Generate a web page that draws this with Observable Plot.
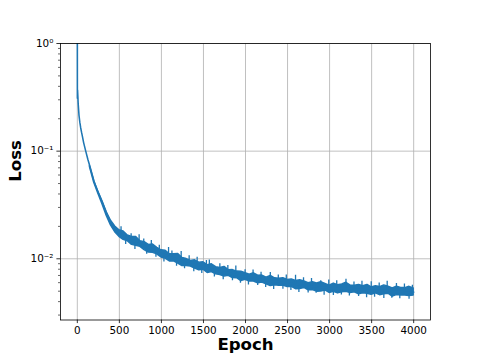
<!DOCTYPE html>
<html><head><meta charset="utf-8">
<script src="https://cdn.jsdelivr.net/npm/d3@7"></script>
<script src="https://cdn.jsdelivr.net/npm/@observablehq/plot@0.6"></script>
<style>html,body{margin:0;padding:0;background:#fff}svg{display:block}</style>
</head><body><div id="chart"></div>
<script>
// Trend of the training loss
const trendEpochs = [0,1,3,6,10,15,20,30,40,50,60,75,100,125,
  150,200,250,300,350,400,450,500,550,600,650,700,750,800,850,900,950,1000,
  1050,1100,1150,1200,1250,1300,1350,1400,1450,1500,1550,1600,1650,1700,1750,1800,1850,1900,1950,2000,
  2050,2100,2150,2200,2250,2300,2350,2400,2450,2500,2550,2600,2650,2700,2750,2800,2850,2900,2950,3000,
  3050,3100,3150,3200,3250,3300,3350,3400,3450,3500,3550,3600,3650,3700,3750,3800,3850,3900,3950,4000];
const trendLoss = [3.0,0.31,0.37,0.33,0.28,0.245,0.215,0.185,0.165,0.15,0.138,0.12,0.1,0.084,
  0.072,0.052,0.041,0.033,0.026,0.0215,0.0188,0.0172,0.0163,0.0155,0.0148,0.0142,0.0136,0.0131,0.0127,0.0122,0.0117,0.0112,
  0.0108,0.0104,0.0101,0.0098,0.0095,0.0092,0.0090,0.0088,0.0086,0.0085,0.0082,0.0080,0.0078,0.0076,0.0075,0.0074,0.0072,0.0071,0.0069,0.0068,
  0.0067,0.0066,0.0065,0.0064,0.0063,0.0062,0.0061,0.0061,0.0060,0.0060,0.0059,0.0058,0.0057,0.0057,0.0056,0.0055,0.0055,0.0054,0.0054,0.0053,
  0.0053,0.0053,0.0053,0.0053,0.0053,0.0052,0.0052,0.0052,0.0051,0.0051,0.0051,0.0051,0.0051,0.0051,0.0050,0.0050,0.0050,0.0049,0.0049,0.0049];

// Envelope of the noisy band (upper and lower edges)
const bandEpochs = [150,200,250,300,350,400,450,500,550,600,650,700,750,800,850,900,950,1000,
  1050,1100,1150,1200,1250,1300,1350,1400,1450,1500,1550,1600,1650,1700,1750,1800,1850,1900,1950,2000,
  2050,2100,2150,2200,2250,2300,2350,2400,2450,2500,2550,2600,2650,2700,2750,2800,2850,2900,2950,3000,
  3050,3100,3150,3200,3250,3300,3350,3400,3450,3500,3550,3600,3650,3700,3750,3800,3850,3900,3950,4000];
const bandHigh = [0.0727,0.0528,0.0418,0.0340,0.0270,0.02258,0.01993,0.01840,0.01793,0.01643,0.01598,0.01590,0.01455,0.01428,0.01346,0.01354,0.01264,0.01198,
  0.01188,0.01102,0.01101,0.01107,0.01017,0.00994,0.00954,0.00968,0.00920,0.00927,0.00869,0.00888,0.00835,0.00821,0.00840,0.00784,0.00785,0.00760,0.00759,0.00734,
  0.00710,0.00733,0.00696,0.00698,0.00668,0.00694,0.00659,0.00653,0.00660,0.00636,0.00643,0.00621,0.00633,0.00616,0.00594,0.00605,0.00589,0.00605,0.00583,0.00562,
  0.00588,0.00567,0.00578,0.00599,0.00562,0.00562,0.00572,0.00556,0.00571,0.00541,0.00556,0.00546,0.00566,0.00551,0.00530,0.00550,0.00535,0.00534,0.00549,0.00529];
const bandLow = [0.0713,0.0512,0.0402,0.0320,0.0250,0.02043,0.01767,0.01600,0.01500,0.01457,0.01347,0.01321,0.01292,0.01205,0.01143,0.01135,0.01100,0.01030,
  0.01004,0.00946,0.00949,0.00902,0.00855,0.00856,0.00846,0.00810,0.00783,0.00791,0.00738,0.00752,0.00718,0.00707,0.00683,0.00696,0.00662,0.00660,0.00621,0.00639,
  0.00616,0.00614,0.00592,0.00602,0.00580,0.00558,0.00567,0.00561,0.00564,0.00546,0.00549,0.00522,0.00524,0.00536,0.00510,0.00512,0.00495,0.00497,0.00508,0.00482,
  0.00493,0.00477,0.00488,0.00493,0.00482,0.00489,0.00468,0.00478,0.00474,0.00464,0.00479,0.00459,0.00469,0.00474,0.00445,0.00460,0.00455,0.00456,0.00451,0.00456];

// Individual noise spikes sticking out of the band
const spikeEpochs = [520,575,640,685,735,790,825,880,935,975,1030,1085,1125,1180,1235,1275,1330,1385,1425,1480,
  1535,1570,1630,1695,1735,1790,1845,1885,1940,1995,2035,2090,2145,2185,2240,2295,2335,2390,2445,2485,
  2540,2595,2635,2690,2745,2785,2840,2895,2935,2990,3045,3085,3140,3195,3235,3290,3345,3385,3440,3495,
  3535,3590,3645,3685,3740,3795,3835,3890,3945,3985];
const spikeLow = [0.0168,0.0136,0.0149,0.0122,0.0139,0.0132,0.0110,0.0124,0.01035,0.0114,0.00935,0.0106,0.0102,0.00851,0.0096,0.00809,0.0091,0.00757,0.0087,0.00731,
  0.0083,0.0081,0.00679,0.0076,0.00638,0.0074,0.00626,0.0071,0.00593,0.0068,0.0057,0.0066,0.00566,0.0064,0.00542,0.0062,0.00519,0.0061,0.00522,0.0060,
  0.00507,0.0058,0.00485,0.0057,0.00482,0.0055,0.00479,0.0054,0.00459,0.0053,0.00456,0.0053,0.00461,0.0053,0.0045,0.0052,0.00447,0.0052,0.00434,0.0051,
  0.00439,0.0051,0.00428,0.0051,0.0043,0.0050,0.00425,0.0049,0.00421,0.0049];
const spikeHigh = [0.0198,0.0158,0.0171,0.0143,0.0167,0.0153,0.0128,0.01476,0.0119,0.01334,0.0110,0.01272,0.01183,0.0099,0.01171,0.0093,0.01065,0.0089,0.01035,0.0085,
  0.00963,0.00972,0.0079,0.00897,0.0075,0.00866,0.0072,0.00859,0.0069,0.00789,0.0067,0.00785,0.0065,0.00749,0.0063,0.00744,0.0061,0.00708,0.0060,0.00708,
  0.0059,0.00702,0.0057,0.00667,0.0056,0.00655,0.0055,0.00626,0.0054,0.00636,0.0053,0.00625,0.0053,0.00647,0.0053,0.00608,0.0052,0.00619,0.0051,0.00612,
  0.0051,0.00597,0.0051,0.00617,0.0050,0.0059,0.0050,0.00583,0.0049,0.00568];

const xTicks = [0,500,1000,1500,2000,2500,3000,3500,4000];
const yTicks = [1,0.1,0.01];
const yTickLabels = ["10\u2070","10\u207B\u00B9","10\u207B\u00B2"];
const yMinorTicks = [0.003,0.004,0.005,0.006,0.007,0.008,0.009,
  0.02,0.03,0.04,0.05,0.06,0.07,0.08,0.09,
  0.2,0.3,0.4,0.5,0.6,0.7,0.8,0.9];

const band = bandEpochs.map((e, i) => ({epoch: e, lo: bandLow[i], hi: bandHigh[i]}));
const spikes = spikeEpochs.map((e, i) => ({epoch: e, lo: spikeLow[i], hi: spikeHigh[i]}));
const trend = trendEpochs.map((e, i) => ({epoch: e, loss: trendLoss[i]}));

const blue = "#1f77b4";
const grid = {stroke: "#b0b0b0", strokeOpacity: 1, strokeWidth: 0.8};

const chart = Plot.plot({
  width: 478, height: 359,
  marginLeft: 60, marginRight: 48, marginTop: 43, marginBottom: 39.5,
  style: {fontFamily: "DejaVu Sans", background: "#fff", color: "#000"},
  x: {domain: [-200, 4200]},
  y: {type: "log", domain: [0.0027, 1]},
  marks: [
    Plot.gridX(xTicks, grid),
    Plot.gridY(yTicks, grid),
    Plot.areaY(band, {x: "epoch", y1: "lo", y2: "hi", fill: blue, stroke: blue, strokeWidth: 1.5, clip: true}),
    Plot.ruleX(spikes, {x: "epoch", y1: "lo", y2: "hi", stroke: blue, strokeWidth: 1.3, clip: true}),
    Plot.line(trend, {x: "epoch", y: "loss", stroke: blue, strokeWidth: 1.56, clip: true}),
    Plot.frame({stroke: "#000", strokeWidth: 0.8}),
    Plot.axisX(xTicks, {tickSize: 3.6, tickPadding: 3.5, fontSize: 10.4, strokeWidth: 0.8, label: null,
      tickFormat: d => String(d)}),
    Plot.axisY(yTicks, {tickSize: 3.6, tickPadding: 3.5, fontSize: 10.4, strokeWidth: 0.8, label: null,
      tickFormat: d => yTickLabels[yTicks.indexOf(d)]}),
    Plot.axisY(yMinorTicks, {tickSize: 2, strokeWidth: 0.6, label: null, tickFormat: () => ""}),
    Plot.text(["Epoch"], {frameAnchor: "bottom", dy: 29.5, fontSize: 16.6, fontWeight: "bold", fill: "#000"}),
    Plot.text(["Loss"], {frameAnchor: "left", dx: -44.8, rotate: -90, fontSize: 16.6, fontWeight: "bold", fill: "#000"})
  ]
});
document.getElementById("chart").appendChild(chart);
</script>
</body></html>
